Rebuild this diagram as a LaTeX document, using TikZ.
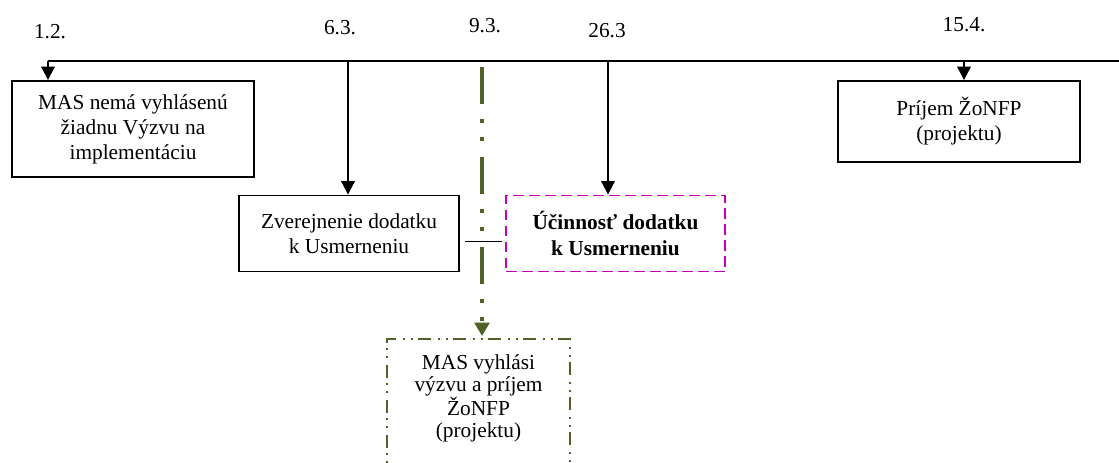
\documentclass[tikz,border=0pt]{standalone}
\usepackage{fontspec}
\setmainfont{Liberation Serif}
\usetikzlibrary{arrows.meta}
\definecolor{olivegreen}{RGB}{79,98,40}
\definecolor{purplemag}{RGB}{191,0,191}

\begin{document}
\begin{tikzpicture}[x=0.75pt,y=0.75pt]
\tikzstyle{every node}+=[font=\fontsize{16}{18.8}\selectfont]
\tikzstyle{datum}=[inner sep=0pt]
\tikzstyle{box}=[draw=black,line width=1.4pt,align=center,inner sep=0pt]
\tikzstyle{magbox}=[box,draw=purplemag,dash pattern=on 8pt off 4pt,font=\fontsize{16}{18.8}\selectfont\bfseries]
\tikzstyle{greenbox}=[box,draw=olivegreen,line width=1.5pt,dash pattern=on 9.75pt off 4pt on 1.5pt off 4.5pt on 1.5pt off 5pt,font=\fontsize{16}{16.4}\selectfont]
\tikzstyle{arr}=[line width=1.4pt,-{Triangle[length=10pt,width=10pt]}]
\tikzstyle{gline}=[draw=olivegreen,line width=3pt,dash pattern=on 27.75pt off 11.25pt on 3pt off 10.5pt on 3pt off 12pt]
\useasboundingbox (0,0) rectangle (1119,-462);
\draw (50,-32) node[datum] (d12) {1.2.};
\draw (340,-28) node[datum] (d63) {6.3.};
\draw (485,-26) node[datum] (d93) {9.3.};
\draw (607,-31) node[datum] (d263) {26.3};
\draw (964,-25) node[datum] (d154) {15.4.};
\coordinate (ta) at (48,-61);
\coordinate (tb) at (1119,-61);
\coordinate (t12) at (48,-61);
\coordinate (t63) at (348,-61);
\coordinate (t93) at (482,-67);
\coordinate (t263) at (608,-61);
\coordinate (t154) at (964,-61);
\draw [line width=1.4pt] (ta) -- (tb);
\draw (133,-129) node[box,minimum width=181.5pt,minimum height=72pt] (mas) {MAS nemá vyhlásenú\\žiadnu Výzvu na\\implementáciu};
\draw (349,-233.5) node[box,minimum width=165pt,minimum height=57pt] (zv) {Zverejnenie dodatku\\k Usmerneniu};
\draw (615.5,-233.5) node[magbox,minimum width=164.25pt,minimum height=57pt] (uc) {Účinnosť dodatku\\k Usmerneniu};
\draw (959,-121.5) node[box,minimum width=181.5pt,minimum height=60.75pt] (prijem) {Príjem ŽoNFP\\(projektu)};
\draw (478.5,-338) node[greenbox,anchor=north,minimum width=137.25pt,inner ysep=12pt,text depth=40pt] (vyzva) {MAS vyhlási\\výzvu a príjem\\ŽoNFP\\(projektu)};
\draw [arr] (t12) -- (t12 |- mas.north);
\draw [arr] (t63) -- (t63 |- zv.north);
\draw [arr] (t263) -- (t263 |- uc.north);
\draw [arr] (t154) -- (t154 |- prijem.north);
\draw [arr,gline,-{Triangle[length=10pt,width=11pt]},shorten >=1.5pt] (t93) -- (t93 |- vyzva.north);
\draw [line width=1.4pt,shorten <=3.75pt,shorten >=2.25pt] ([yshift=-6pt]zv.east) -- ([yshift=-6pt]uc.west);
\end{tikzpicture}
\end{document}
